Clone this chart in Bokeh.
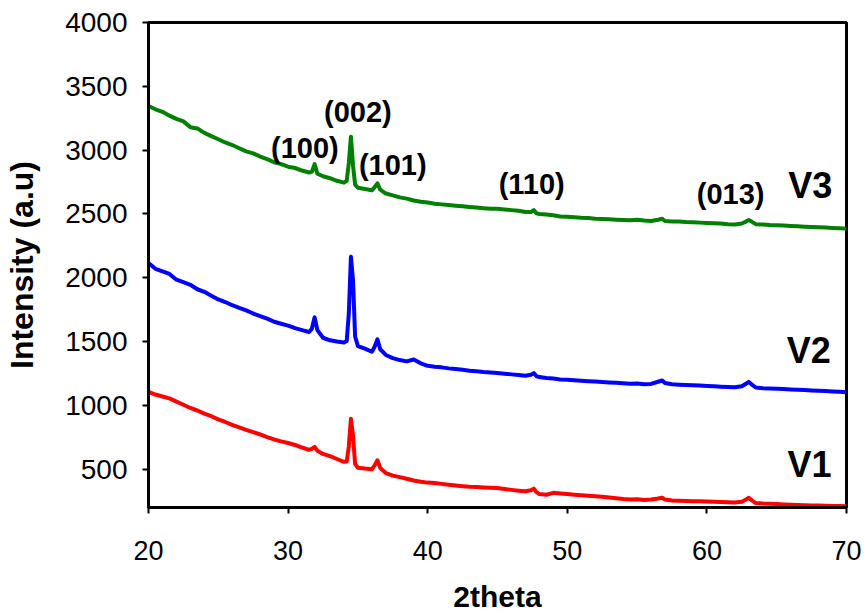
from bokeh.plotting import figure
from bokeh.models import Range1d, FixedTicker, Label
from bokeh.embed import file_html
from bokeh.resources import INLINE

# ---- data ----
two_theta = [20.0, 20.5, 21.0, 21.5, 22.0, 22.5, 23.0, 23.5, 24.0, 24.5, 25.0, 25.5,
             26.0, 26.5, 27.0, 27.5, 28.0, 28.5, 29.0, 29.5, 30.0, 30.5, 31.0, 31.5,
             31.7, 31.9, 32.1,
             32.5, 33.0, 33.5, 34.0,
             34.2, 34.35, 34.5, 34.65, 34.8, 35.0,
             35.5, 36.0,
             36.2, 36.4, 36.6,
             37.0, 37.5, 38.0, 38.5, 39.0, 39.5, 40.0, 40.5, 41.0, 41.5, 42.0, 42.5,
             43.0, 43.5, 44.0, 44.5, 45.0, 45.5, 46.0, 46.5, 47.0,
             47.4, 47.6, 47.8,
             48.0, 48.5, 49.0, 49.5, 50.0, 50.5, 51.0, 51.5, 52.0, 52.5, 53.0, 53.5,
             54.0, 54.5, 55.0, 55.5, 56.0, 56.5,
             56.8,
             57.0, 57.5, 58.0, 58.5, 59.0, 59.5, 60.0, 60.5, 61.0, 61.5, 62.0, 62.5,
             62.8, 63.0, 63.2,
             63.5, 64.0, 64.5, 65.0, 65.5, 66.0, 66.5, 67.0, 67.5, 68.0, 68.5, 69.0, 69.5, 70.0]

v3 = [3345, 3320, 3300, 3270, 3245, 3225, 3180, 3170, 3135, 3110, 3085, 3060,
      3040, 3015, 2990, 2975, 2950, 2930, 2905, 2890, 2870, 2860, 2840, 2825,
      2830, 2890, 2815,
      2795, 2780, 2760, 2745,
      2760, 2900, 3105, 2880, 2730, 2705,
      2695, 2685,
      2710, 2740, 2690,
      2660, 2645, 2630, 2620, 2605, 2595, 2590, 2580, 2575, 2570, 2565, 2560,
      2555, 2550, 2545, 2540, 2540, 2535, 2530, 2525, 2515,
      2515, 2530, 2505,
      2500, 2495, 2490, 2480, 2478, 2475, 2470, 2468, 2463, 2460, 2458, 2455,
      2452, 2450, 2455, 2448, 2445, 2455,
      2462,
      2445, 2440, 2440, 2436, 2434, 2432, 2430, 2428, 2425, 2420, 2418, 2425,
      2440, 2452, 2440,
      2420, 2418, 2414, 2412, 2410, 2406, 2403, 2400, 2398, 2395, 2393, 2390, 2388, 2385]

v2 = [2115, 2070, 2050, 2030, 1985, 1965, 1945, 1910, 1890, 1860, 1830, 1810,
      1785, 1765, 1745, 1720, 1700, 1680, 1655, 1640, 1625, 1605, 1590, 1575,
      1600, 1690, 1590,
      1530, 1510, 1500, 1492,
      1505, 1720, 2165, 1980, 1540, 1465,
      1445, 1420,
      1460, 1518, 1440,
      1395, 1370, 1355, 1345, 1360, 1330, 1310, 1302, 1298, 1290, 1285, 1280,
      1272, 1268, 1262, 1258, 1253, 1248, 1243, 1238, 1232,
      1240, 1253, 1228,
      1222, 1215, 1210, 1203, 1200, 1197, 1194, 1190, 1187, 1183, 1180, 1177,
      1173, 1170, 1172, 1166, 1168, 1185,
      1195,
      1175, 1165, 1162, 1160, 1157, 1155, 1152, 1150, 1147, 1145, 1142, 1150,
      1170, 1184, 1165,
      1140, 1135, 1133, 1130, 1128, 1125, 1122, 1120, 1117, 1114, 1112, 1109, 1106, 1103]

v1 = [1105, 1085, 1070, 1055, 1030, 1005, 980, 960, 935, 915, 890, 870,
      848, 828, 808, 790, 772, 752, 733, 718, 705, 690, 670, 652,
      660, 675, 645,
      620, 602, 580, 558,
      560, 680, 895, 760, 540, 512,
      505, 500,
      530, 570, 510,
      470, 450, 438, 425, 412, 402, 395, 392, 385, 378, 372, 367,
      362, 360, 357, 355, 352, 345, 338, 332, 327,
      335, 348, 320,
      305, 300, 315, 310, 305, 300, 296, 292, 288, 284, 278, 272,
      266, 262, 265, 258, 262, 270,
      276,
      262, 255, 252, 250, 249, 248, 247, 245, 243, 241, 240, 245,
      262, 276, 258,
      235, 231, 229, 227, 224, 222, 220, 218, 216, 215, 213, 212, 211, 210]

series_names = ["V1", "V2", "V3"]
series_colors = ["#ff0000", "#0000ff", "#008000"]

peak_labels = ["(100)", "(002)", "(101)", "(110)", "(013)"]

x_ticks = [20, 30, 40, 50, 60, 70]
y_ticks = [500, 1000, 1500, 2000, 2500, 3000, 3500, 4000]

FONT = "Liberation Sans"

p = figure(width=866, height=615, output_backend="svg", toolbar_location=None,
           x_range=Range1d(20, 70), y_range=Range1d(200, 4000),
           min_border_left=148, min_border_right=20, min_border_top=22,
           min_border_bottom=108)

p.outline_line_color = "black"
p.outline_line_width = 3
p.xgrid.visible = False
p.ygrid.visible = False
p.background_fill_color = "white"
p.border_fill_color = "white"

for ys, c in zip([v1, v2, v3], series_colors):
    p.line(two_theta, ys, line_color=c, line_width=4, line_join="round")

for ax in (p.xaxis[0], p.yaxis[0]):
    ax.axis_line_width = 3
    ax.axis_line_color = "black"
    ax.major_tick_line_width = 2
    ax.major_tick_line_color = "black"
    ax.major_tick_in = 0
    ax.major_tick_out = 6
    ax.minor_tick_line_color = None
    ax.major_label_text_font = FONT
    ax.major_label_text_color = "black"
    ax.axis_label_text_font = FONT
    ax.axis_label_text_font_style = "bold"
    ax.axis_label_text_color = "black"

p.xaxis.major_label_text_font_size = "27px"
p.yaxis.major_label_text_font_size = "28px"
p.xaxis.axis_label_text_font_size = "30px"
p.yaxis.axis_label_text_font_size = "32px"

p.xaxis.ticker = FixedTicker(ticks=x_ticks)
p.yaxis.ticker = FixedTicker(ticks=y_ticks)
p.xaxis.axis_label = "2theta"
p.yaxis.axis_label = "Intensity (a.u)"
p.xaxis.major_label_standoff = 27
p.yaxis.major_label_standoff = 15
p.xaxis.axis_label_standoff = 17
p.yaxis.axis_label_standoff = 22

peak_pos = [(31.2, 3020), (35.0, 3300), (37.5, 2887), (47.45, 2731), (61.7, 2653)]
for t, (x, y) in zip(peak_labels, peak_pos):
    p.add_layout(Label(x=x, y=y, text=t, text_font=FONT, text_font_style="bold",
                       text_font_size="29px", text_align="center",
                       text_baseline="middle", text_color="black"))

name_pos = [(67.35, 536), (67.3, 1434), (67.4, 2723)]
for t, (x, y) in zip(series_names, name_pos):
    p.add_layout(Label(x=x, y=y, text=t, text_font=FONT, text_font_style="bold",
                       text_font_size="36px", text_align="center",
                       text_baseline="middle", text_color="black"))

open("out.html", "w").write(file_html(p, INLINE))
